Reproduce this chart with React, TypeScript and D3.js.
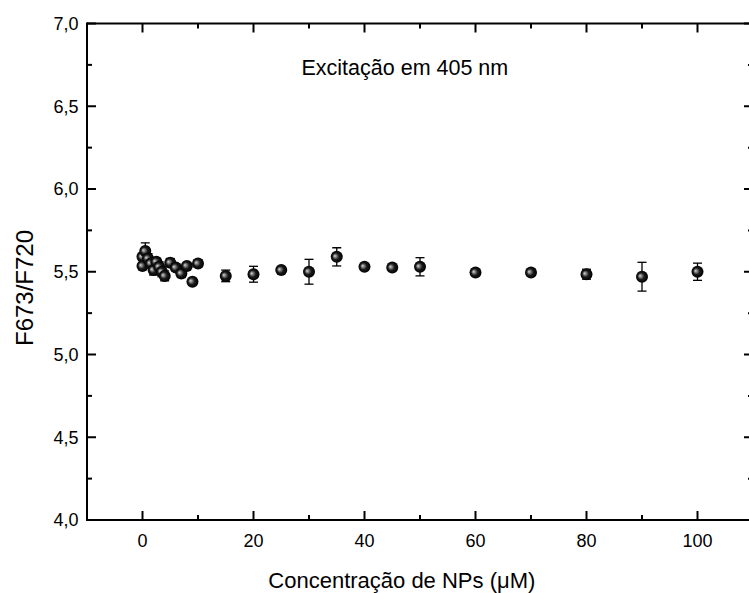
import React from "react";
import * as d3 from "d3";

const concentrations = [0, 0, 0.5, 1, 1.5, 2, 2.5, 3, 3.5, 4, 5, 6, 7, 8, 9, 10, 15, 20, 25, 30, 35, 40, 45, 50, 60, 70, 80, 90, 100];
const ratios = [5.59, 5.535, 5.625, 5.58, 5.55, 5.51, 5.56, 5.53, 5.50, 5.475, 5.555, 5.525, 5.49, 5.535, 5.44, 5.55, 5.475, 5.485, 5.51, 5.50, 5.59, 5.53, 5.525, 5.53, 5.495, 5.495, 5.485, 5.47, 5.50];
const errors = [0.02, 0.02, 0.05, 0.03, 0.02, 0.03, 0.02, 0.03, 0.03, 0.03, 0.025, 0.02, 0.025, 0.015, 0.01, 0.02, 0.035, 0.048, 0.01, 0.075, 0.055, 0.015, 0.012, 0.055, 0.01, 0.015, 0.03, 0.087, 0.052];

const xMajorTicks = [0, 20, 40, 60, 80, 100];
const xMinorTicks = [10, 30, 50, 70, 90];
const yMajorTicks = [4.0, 4.5, 5.0, 5.5, 6.0, 6.5, 7.0];
const yMinorTicks = [4.25, 4.75, 5.25, 5.75, 6.25, 6.75];

const title = "Excitação em 405 nm";
const xLabel = "Concentração de NPs (μM)";
const yLabel = "F673/F720";

const W = 749;
const H = 593;
const left = 87;
const right = 753;
const top = 23.5;
const bottom = 520;
const font = "'Liberation Sans', Arial, Helvetica, sans-serif";

export default function App() {
  const x = d3.scaleLinear().domain([-10, 110]).range([left, right]);
  const y = d3.scaleLinear().domain([4, 7]).range([bottom, top]);
  const fmt = (v: number) => v.toFixed(1).replace(".", ",");
  const major = 9;
  const minor = 5;
  const sw = 2;

  return (
    <svg width={W} height={H} style={{ position: "absolute", left: 0, top: 0, background: "#fff" }} fontFamily={font}>
      <defs>
        <radialGradient id="sphere" cx="0.5" cy="0.5" r="0.5" fx="0.32" fy="0.42">
          <stop offset="0" stopColor="#d8d8d8" />
          <stop offset="0.22" stopColor="#8a8a8a" />
          <stop offset="0.55" stopColor="#1a1a1a" />
          <stop offset="1" stopColor="#000" />
        </radialGradient>
        <clipPath id="plotclip">
          <rect x={left} y={top} width={right - left} height={bottom - top} />
        </clipPath>
      </defs>

      {/* error bars */}
      <g stroke="#000" strokeWidth={1.3} clipPath="url(#plotclip)">
        {concentrations.map((c, i) => {
          const cx = x(c);
          const y1 = y(ratios[i] + errors[i]);
          const y2 = y(ratios[i] - errors[i]);
          return (
            <g key={i}>
              <line x1={cx} x2={cx} y1={y1} y2={y2} />
              <line x1={cx - 4.5} x2={cx + 4.5} y1={y1} y2={y1} />
              <line x1={cx - 4.5} x2={cx + 4.5} y1={y2} y2={y2} />
            </g>
          );
        })}
      </g>

      {/* markers */}
      <g>
        {concentrations.map((c, i) => (
          <circle key={i} cx={x(c)} cy={y(ratios[i])} r={6} fill="url(#sphere)" />
        ))}
      </g>

      {/* frame */}
      <g stroke="#000" strokeWidth={sw} fill="none">
        <line x1={left} x2={right} y1={bottom} y2={bottom} />
        <line x1={left} x2={right} y1={top} y2={top} />
        <line x1={left} x2={left} y1={top - 1} y2={bottom + 1} />
        <line x1={right} x2={right} y1={top - 1} y2={bottom + 1} />
      </g>

      {/* ticks */}
      <g stroke="#000" strokeWidth={sw}>
        {xMajorTicks.map((t) => (
          <g key={"xm" + t}>
            <line x1={x(t)} x2={x(t)} y1={bottom} y2={bottom - major} />
            <line x1={x(t)} x2={x(t)} y1={top} y2={top + major} />
          </g>
        ))}
        {xMinorTicks.map((t) => (
          <g key={"xn" + t}>
            <line x1={x(t)} x2={x(t)} y1={bottom} y2={bottom - minor} />
            <line x1={x(t)} x2={x(t)} y1={top} y2={top + minor} />
          </g>
        ))}
        {yMajorTicks.map((t) => (
          <g key={"ym" + t}>
            <line x1={left} x2={left + major} y1={y(t)} y2={y(t)} />
            <line x1={right} x2={right - major} y1={y(t)} y2={y(t)} />
          </g>
        ))}
        {yMinorTicks.map((t) => (
          <g key={"yn" + t}>
            <line x1={left} x2={left + minor} y1={y(t)} y2={y(t)} />
            <line x1={right} x2={right - minor} y1={y(t)} y2={y(t)} />
          </g>
        ))}
      </g>

      {/* tick labels */}
      <g fontSize={18} fill="#000">
        {xMajorTicks.map((t) => (
          <text key={"xl" + t} x={x(t)} y={546.7} textAnchor="middle">
            {t}
          </text>
        ))}
        {yMajorTicks.map((t) => (
          <text key={"yl" + t} x={78.5} y={y(t)} dy="0.35em" textAnchor="end">
            {fmt(t)}
          </text>
        ))}
      </g>

      {/* labels */}
      <text x={301.5} y={75} fontSize={21.5} fill="#000">
        {title}
      </text>
      <text x={268.3} y={588.3} fontSize={22} fill="#000">
        {xLabel}
      </text>
      <text transform={`translate(33.3,288) rotate(-90)`} textAnchor="middle" fontSize={24} fill="#000">
        {yLabel}
      </text>
    </svg>
  );
}
